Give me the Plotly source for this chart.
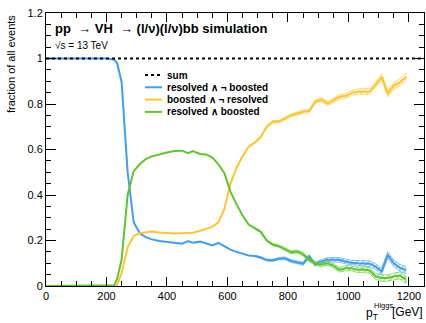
import plotly.graph_objects as go

# ---- data ----
pt = [0, 50, 100, 150, 200, 225, 235, 250, 270, 290, 310, 330, 350, 375, 400, 425,
      450, 470, 485, 510, 530, 550, 570, 590, 610, 630, 650, 670, 690, 710, 730, 750,
      770, 790, 810, 830, 850, 870, 890, 910, 930, 950, 970, 990, 1010, 1030, 1050,
      1070, 1090, 1110, 1130, 1150, 1170, 1190]

resolved_only = [1, 1, 1, 1, 1, 0.995, 0.98, 0.897, 0.5, 0.28, 0.232, 0.215, 0.205,
                 0.198, 0.193, 0.19, 0.186, 0.197, 0.19, 0.195, 0.185, 0.178, 0.19,
                 0.176, 0.16, 0.15, 0.142, 0.134, 0.132, 0.125, 0.114, 0.113, 0.12,
                 0.122, 0.11, 0.105, 0.098, 0.13, 0.095, 0.108, 0.115, 0.115, 0.115,
                 0.108, 0.102, 0.1, 0.1, 0.098, 0.085, 0.064, 0.137, 0.1, 0.08, 0.07]

boosted_only = [0, 0, 0, 0, 0, 0, 0.005, 0.057, 0.17, 0.22, 0.232, 0.236, 0.24, 0.235,
                0.232, 0.231, 0.232, 0.232, 0.234, 0.243, 0.25, 0.26, 0.28, 0.34, 0.45,
                0.52, 0.57, 0.612, 0.63, 0.655, 0.7, 0.722, 0.723, 0.735, 0.75, 0.758,
                0.766, 0.769, 0.81, 0.82, 0.803, 0.815, 0.832, 0.835, 0.848, 0.855,
                0.855, 0.854, 0.885, 0.919, 0.846, 0.88, 0.895, 0.919]

both = [0, 0, 0, 0, 0, 0.003, 0.03, 0.115, 0.4, 0.505, 0.535, 0.558, 0.57, 0.58, 0.587,
        0.593, 0.595, 0.584, 0.593, 0.58, 0.578, 0.565, 0.535, 0.496, 0.415, 0.36, 0.31,
        0.27, 0.255, 0.238, 0.2, 0.182, 0.175, 0.163, 0.148, 0.152, 0.14, 0.115, 0.1,
        0.093, 0.1, 0.09, 0.071, 0.078, 0.078, 0.071, 0.072, 0.068, 0.042, 0.035, 0.035,
        0.042, 0.046, 0.028]

# statistical uncertainty (half-width of hatched band)
unc = [0, 0, 0, 0, 0, 0, 0, 0, 0, 0, 0, 0, 0, 0, 0, 0,
       0, 0, 0, 0, 0, 0, 0, 0, 0, 0, 0, 0, 0.003, 0.004, 0.004, 0.005,
       0.005, 0.006, 0.006, 0.007, 0.007, 0.008, 0.008, 0.009, 0.009, 0.01, 0.01, 0.011,
       0.011, 0.012, 0.012, 0.013, 0.013, 0.014, 0.014, 0.015, 0.015, 0.016]

sum_x = [0, 1250]
sum_y = [1, 1]

series = [
    ("resolved \u2227 \u00ac boosted", resolved_only, "#3d9df3"),
    ("boosted \u2227 \u00ac resolved", boosted_only, "#fdc530"),
    ("resolved \u2227 boosted", both, "#5cc62c"),
]

W, H = 426, 323
L, R, T, B = 46, 424, 13, 286


def px(x):
    return (x - L) / (R - L)


def py(y):
    return (B - y) / (B - T)


fig = go.Figure()

for name, vals, col in series:
    xs = [x for x, e in zip(pt, unc) if e > 0]
    up = [v + e for v, e in zip(vals, unc) if e > 0]
    lo = [v - e for v, e in zip(vals, unc) if e > 0]
    fig.add_trace(go.Scatter(
        x=xs + xs[::-1], y=up + lo[::-1], fill="toself", mode="lines",
        line=dict(width=0.6, color=col), fillcolor="rgba(0,0,0,0)",
        fillpattern=dict(shape="/", fgcolor=col, size=4, solidity=0.4),
        showlegend=False, hoverinfo="skip"))
    fig.add_trace(go.Scatter(x=pt, y=vals, mode="lines", name=name,
                             line=dict(color=col, width=2), showlegend=False))

fig.add_trace(go.Scatter(x=sum_x, y=sum_y, mode="lines", name="sum",
                         line=dict(color="black", width=2, dash="dot"),
                         showlegend=False))

font = "Liberation Sans, Arial, Helvetica, sans-serif"

# manual legend
leg_items = [("sum", "black", "dot")] + [(n, c, "solid") for n, _, c in series]
leg_y = [75, 87.3, 99.6, 111.9]
for (name, col, dash), yy in zip(leg_items, leg_y):
    fig.add_shape(type="line", xref="paper", yref="paper",
                  x0=px(145), x1=px(162), y0=py(yy), y1=py(yy),
                  line=dict(color=col, width=2, dash=dash))
    fig.add_annotation(xref="paper", yref="paper", x=px(165), y=py(yy),
                       xanchor="left", yanchor="middle", showarrow=False,
                       text="<b>%s</b>" % name, font=dict(size=10, color="black"))

fig.add_annotation(xref="paper", yref="paper", x=px(53), y=py(28),
                   xanchor="left", yanchor="middle", showarrow=False,
                   text="<b>pp  \u2192 VH  \u2192 (l/\u03bd)(l/\u03bd)bb simulation</b>",
                   font=dict(size=13, color="black"))
fig.add_annotation(xref="paper", yref="paper", x=px(53), y=py(45),
                   xanchor="left", yanchor="middle", showarrow=False,
                   text="\u221as = 13 TeV", font=dict(size=10, color="black"))

# axis titles
fig.add_annotation(xref="paper", yref="paper", x=px(11), y=1,
                   xanchor="center", yanchor="top", textangle=-90, showarrow=False,
                   text="fraction of all events", font=dict(size=11, color="black"))
fig.add_annotation(xref="paper", yref="paper", x=px(425), y=py(312),
                   xanchor="right", yanchor="middle", showarrow=False,
                   text="[GeV]", font=dict(size=12, color="black"))
fig.add_annotation(xref="paper", yref="paper", x=px(372), y=py(305),
                   xanchor="left", yanchor="middle", showarrow=False,
                   text="Higgs", font=dict(size=7.5, color="black"))
fig.add_annotation(xref="paper", yref="paper", x=px(364), y=py(314),
                   xanchor="left", yanchor="middle", showarrow=False,
                   text="p<sub>T</sub>", font=dict(size=12, color="black"))

axis_common = dict(showgrid=False, zeroline=False, showline=True, linecolor="black",
                   linewidth=1, mirror="ticks", ticks="inside", tickcolor="black",
                   tickwidth=1, tickfont=dict(size=11, color="black"))

fig.update_layout(
    width=W, height=H,
    margin=dict(l=L, r=W - R, t=T, b=H - B),
    paper_bgcolor="white", plot_bgcolor="white",
    font=dict(family=font, color="black"),
    xaxis=dict(range=[0, 1250], dtick=200, tick0=0, ticklen=9,
               minor=dict(dtick=50, ticklen=5, ticks="inside", tickcolor="black"),
               **axis_common),
    yaxis=dict(range=[0, 1.2], dtick=0.2, tick0=0, ticklen=10,
               tickvals=[0, 0.2, 0.4, 0.6, 0.8, 1, 1.2],
               ticktext=["0", "0.2", "0.4", "0.6", "0.8", "1", "1.2"],
               minor=dict(dtick=0.05, ticklen=5, ticks="inside", tickcolor="black"),
               **axis_common),
)

fig.write_html("out.html", config={"displayModeBar": False},
               post_script="document.body.style.margin='0px';"
                           "document.body.style.padding='0px';")
